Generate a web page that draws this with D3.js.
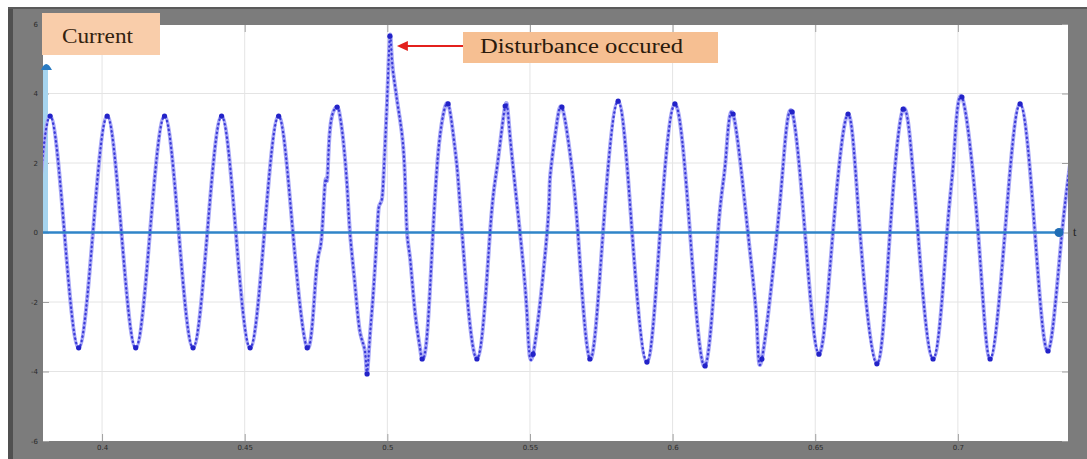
<!DOCTYPE html>
<html>
<head>
<meta charset="utf-8">
<script src="https://cdn.jsdelivr.net/npm/d3@7"></script>
<style>
html, body { margin: 0; padding: 0; background: #fff; }
svg { display: block; }
</style>
</head>
<body>
<svg id="chart" width="1087" height="459"></svg>
<script>
// sampled current waveform (time in s, current read at peaks / zero crossings / troughs)
const time = [
  0.3769, 0.3818, 0.3868, 0.3918, 0.3968, 0.4018, 0.4068, 0.4118, 0.4168, 0.4219,
  0.4269, 0.4319, 0.4369, 0.4419, 0.4469, 0.4519, 0.4569, 0.4619, 0.4669, 0.4719,
  0.4747, 0.4761, 0.4771, 0.4782, 0.4789, 0.4795, 0.4806, 0.4824, 0.4834, 0.4845,
  0.4859, 0.4869, 0.4887, 0.4904, 0.4922, 0.4929, 0.4939, 0.4950, 0.4964, 0.4971,
  0.4981, 0.4988, 0.4999, 0.5009, 0.5016, 0.5027, 0.5037, 0.5052, 0.5062, 0.5069,
  0.5080, 0.5097, 0.5115, 0.5122, 0.5139, 0.5160, 0.5178, 0.5195, 0.5213, 0.5230,
  0.5244, 0.5262, 0.5314, 0.5360, 0.5385, 0.5413, 0.5430, 0.5465, 0.5490, 0.5511,
  0.5560, 0.5570, 0.5590, 0.5612, 0.5640, 0.5668, 0.5710, 0.5756, 0.5809, 0.5858,
  0.5910, 0.5956, 0.6008, 0.6061, 0.6114, 0.6159, 0.6185, 0.6212, 0.6264, 0.6295,
  0.6313, 0.6366, 0.6390, 0.6419, 0.6464, 0.6513, 0.6562, 0.6615, 0.6657, 0.6716,
  0.6762, 0.6808, 0.6840, 0.6860, 0.6913, 0.6962, 0.6985, 0.7014, 0.7071, 0.7113,
  0.7165, 0.7218, 0.7270, 0.7316, 0.7365, 0.7418
];
const current = [
  0, 3.35, 0, -3.32, 0, 3.35, 0, -3.32, 0, 3.35,
  0, -3.32, 0, 3.35, 0, -3.32, 0, 3.35, 0, -3.32,
  -1.54, -0.56, 0, 1.45, 1.5, 2.49, 3.35, 3.61, 3.35, 2.69,
  1.34, 0, -1.54, -2.86, -3.44, -4.07, -2.98, -1.83, 0, 0.76,
  0.96, 1.83, 3.76, 5.65, 4.99, 4.22, 3.64, 2.78, 1.54, 0,
  -0.76, -2.29, -3.35, -3.64, -2.98, 0, 2.26, 3.35, 3.7, 2.89,
  1.91, 0, -3.64, 0, 1.9, 3.64, 2.78, 0, -2.4, -3.5,
  0, 1.54, 2.9, 3.61, 2.3, 0, -3.64, 0, 3.78, 0,
  -3.73, 0, 3.7, 0, -3.84, 0, 2.0, 3.41, 0, -2.6,
  -3.64, 0, 2.2, 3.47, 0, -3.5, 0, 3.41, 0, -3.78,
  0, 3.55, 2.0, 0, -3.64, 0, 2.1, 3.9, 0, -3.64,
  0, 3.7, 0, -3.41, 0, 3.41
];

const xTicks = [0.4, 0.45, 0.5, 0.55, 0.6, 0.65, 0.7];
const xTickLabels = ['0.4', '0.45', '0.5', '0.55', '0.6', '0.65', '0.7'];
const yTicks = [-6, -4, -2, 0, 2, 4, 6];
const yTickLabels = ['-6', '-4', '-2', '0', '2', '4', '6'];
const xDomain = [0.3793, 0.7386];
const yDomain = [-6, 6];

const seriesLabel = 'Current';
const eventLabel = 'Disturbance occured';
const eventTime = 0.5009;
const eventValue = 5.37;

const width = 1087, height = 459;
const plot = {left: 43, right: 1068, top: 25, bottom: 441};

const svg = d3.select('#chart');
const data = time.map((t, i) => ({t: t, v: current[i]}));

const x = d3.scaleLinear().domain(xDomain).range([plot.left, plot.right]);
const y = d3.scaleLinear().domain(yDomain).range([441, 24]);

// scope frame
svg.append('rect').attr('x', 8).attr('y', 7).attr('width', width - 8).attr('height', height - 7).attr('fill', '#7c7c7c');
svg.append('rect').attr('x', 8).attr('y', 7).attr('width', 5).attr('height', height - 7).attr('fill', '#505050');
svg.append('rect').attr('x', 8).attr('y', 7).attr('width', width - 8).attr('height', 2).attr('fill', '#5a5a5a');
svg.append('rect').attr('x', plot.left).attr('y', plot.top)
  .attr('width', plot.right - plot.left).attr('height', plot.bottom - plot.top).attr('fill', '#fff');

const defs = svg.append('defs');
defs.append('clipPath').attr('id', 'clip')
  .append('rect').attr('x', plot.left).attr('y', plot.top)
  .attr('width', plot.right - plot.left).attr('height', plot.bottom - plot.top);
defs.append('filter').attr('id', 'soft')
  .append('feGaussianBlur').attr('stdDeviation', 0.5);

// grid
const grid = svg.append('g');
grid.selectAll('.vg').data(xTicks).join('line')
  .attr('x1', d => x(d)).attr('x2', d => x(d))
  .attr('y1', plot.top).attr('y2', plot.bottom)
  .attr('stroke', '#e4e4e4').attr('stroke-width', 1);
grid.selectAll('.hg').data(yTicks.filter(d => d !== 0 && Math.abs(d) < 6)).join('line')
  .attr('x1', plot.left).attr('x2', plot.right)
  .attr('y1', d => y(d)).attr('y2', d => y(d))
  .attr('stroke', '#e4e4e4').attr('stroke-width', 1);

// axes with short inner ticks, labels on the frame
const axB = svg.append('g').attr('transform', `translate(0,${plot.bottom})`)
  .call(d3.axisBottom(x).tickValues(xTicks).tickSize(-7).tickPadding(4).tickFormat((d, i) => xTickLabels[i]));
const axL = svg.append('g').attr('transform', `translate(${plot.left},0)`)
  .call(d3.axisLeft(y).tickValues(yTicks).tickSize(-6).tickPadding(5).tickFormat((d, i) => yTickLabels[i]));
const axR = svg.append('g').attr('transform', `translate(${plot.right},0)`)
  .call(d3.axisRight(y).tickValues(yTicks).tickSize(-6).tickFormat(''));
const axT = svg.append('g').attr('transform', `translate(0,${plot.top})`)
  .call(d3.axisTop(x).tickValues(xTicks).tickSize(-7).tickFormat(''));
[axB, axL, axR, axT].forEach(a => {
  a.select('.domain').remove();
  a.selectAll('.tick line').attr('stroke', '#a0a0a0');
  a.selectAll('.tick text').attr('fill', '#2a2a2a').style('font-size', '7px').style('font-family', 'DejaVu Sans');
});

// y axis marker of the scope (light blue bar with cap)
svg.append('rect').attr('x', plot.left).attr('y', 67).attr('width', 5).attr('height', y(0) - 67)
  .attr('fill', '#a6d4ee');
svg.append('path').attr('d', `M${plot.left - 2},70 Q${plot.left + 3},58 ${plot.left + 9},70 Z`).attr('fill', '#2a7bc2');

// waveform
const line = d3.line().x(d => x(d.t)).y(d => y(d.v)).curve(d3.curveNatural);
const wave = svg.append('g').attr('clip-path', 'url(#clip)');
const waveInner = wave.append('g').attr('filter', 'url(#soft)');
waveInner.append('path').datum(data).attr('d', line)
  .attr('fill', 'none').attr('stroke', '#a8a8f7').attr('stroke-width', 4);
waveInner.append('path').datum(data).attr('d', line)
  .attr('fill', 'none').attr('stroke', '#3a3ad8').attr('stroke-width', 2.2)
  .attr('stroke-linecap', 'round').attr('stroke-dasharray', '0.5,4');
const extremes = data.filter((d, i) => i > 0 && i < data.length - 1 && Math.abs(d.v) >= 3.3 &&
  ((d.v > data[i - 1].v && d.v > data[i + 1].v) || (d.v < data[i - 1].v && d.v < data[i + 1].v)));
waveInner.selectAll('circle').data(extremes).join('circle')
  .attr('cx', d => x(d.t)).attr('cy', d => y(d.v)).attr('r', 2.6).attr('fill', '#2424c8');

// time axis line
svg.append('line').attr('x1', plot.left).attr('x2', 1060)
  .attr('y1', y(0)).attr('y2', y(0))
  .attr('stroke', '#2f85c8').attr('stroke-width', 2.5);
svg.append('circle').attr('cx', 1059).attr('cy', y(0)).attr('r', 4.5).attr('fill', '#1f6db5');
svg.append('text').attr('x', 1073).attr('y', y(0) + 3).text('t')
  .attr('fill', '#222').style('font-size', '12px').style('font-family', 'Liberation Serif');

// series label box
svg.append('rect').attr('x', 42).attr('y', 13).attr('width', 118).attr('height', 42).attr('fill', '#f9cdaa');
svg.append('text').attr('x', 62).attr('y', 43).text(seriesLabel)
  .attr('fill', '#33220f').attr('textLength', 71).attr('lengthAdjust', 'spacingAndGlyphs')
  .style('font-size', '20px').style('font-family', 'Liberation Serif');

// disturbance annotation
svg.append('rect').attr('x', 463).attr('y', 32).attr('width', 255).attr('height', 31).attr('fill', '#f6bf92');
svg.append('text').attr('x', 480).attr('y', 53).text(eventLabel)
  .attr('fill', '#2a1a0c').attr('textLength', 203).attr('lengthAdjust', 'spacingAndGlyphs')
  .style('font-size', '20px').style('font-family', 'Liberation Serif');
const tipX = x(eventTime) + 7, tipY = y(eventValue);
svg.append('line').attr('x1', 463).attr('x2', tipX + 8).attr('y1', tipY).attr('y2', tipY)
  .attr('stroke', '#e3201c').attr('stroke-width', 2);
svg.append('path').attr('d', `M${tipX},${tipY} L${tipX + 11},${tipY - 5} L${tipX + 11},${tipY + 5} Z`)
  .attr('fill', '#e3201c');
</script>
</body>
</html>
